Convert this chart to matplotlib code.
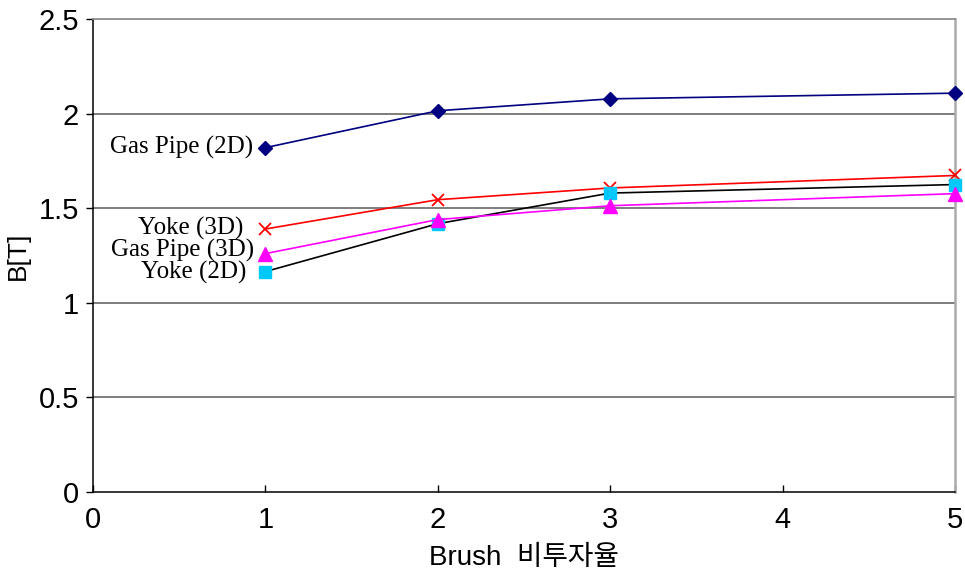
import matplotlib
matplotlib.use("Agg")
import matplotlib.pyplot as plt
from matplotlib import font_manager

# Brush relative permeability vs flux density
x_vals = [1, 2, 3, 5]
gas_pipe_2d = [1.82, 2.015, 2.078, 2.108]
yoke_3d = [1.39, 1.545, 1.607, 1.673]
gas_pipe_3d = [1.26, 1.44, 1.513, 1.577]
yoke_2d = [1.165, 1.418, 1.58, 1.625]
series_names = ["Gas Pipe (2D)", "Yoke (3D)", "Gas Pipe (3D)", "Yoke (2D)"]
x_ticks = [0, 1, 2, 3, 4, 5]
y_ticks = [0, 0.5, 1, 1.5, 2, 2.5]
y_tick_labels = ["0", "0.5", "1", "1.5", "2", "2.5"]

names = {f.name for f in font_manager.fontManager.ttflist}
narrow = "Liberation Sans Narrow" if "Liberation Sans Narrow" in names else "Liberation Sans"
tick_family = [narrow, "DejaVu Sans"]
label_family = [narrow, "Noto Sans CJK KR", "DejaVu Sans"]
serif_family = ["Liberation Serif", "DejaVu Serif"]

fig = plt.figure(figsize=(9.65, 5.71), dpi=100)
ax = fig.add_axes([93 / 965, 1 - 492 / 571, (955 - 93) / 965, (492 - 19) / 571])

ax.set_xlim(0, 5)
ax.set_ylim(0, 2.5)

for y in [0.5, 1, 1.5, 2]:
    ax.axhline(y, color="#5a5a5a", lw=1.1, zorder=1)

lw = 1.2
ax.plot(x_vals, gas_pipe_2d, color="#000080", lw=lw, marker="D", ms=7,
        mfc="#000080", mec="#000080", zorder=3, clip_on=False)
ax.plot(x_vals, yoke_3d, color="#ff0000", lw=lw, marker="x", ms=9, mew=1.3,
        mec="#ff0000", zorder=3, clip_on=False)
ax.plot(x_vals, yoke_2d, color="#000000", lw=lw, marker="s", ms=8,
        mfc="#00c8f8", mec="#00c8f8", zorder=3, clip_on=False)
ax.plot(x_vals, gas_pipe_3d, color="#ff00ff", lw=lw, marker="^", ms=9.5,
        mfc="#ff00ff", mec="#ff00ff", zorder=4, clip_on=False)

# Series labels next to the first point
first = [gas_pipe_2d[0], yoke_3d[0], gas_pipe_3d[0], yoke_2d[0]]
offsets = [(-9, 0), (-16, 0.5), (-8, 2.5), (-14, -0.5)]
for name, y0, off in zip(series_names, first, offsets):
    ax.annotate(name, xy=(x_vals[0], y0), xytext=off, textcoords="offset points",
                ha="right", va="center", fontsize=18, family=serif_family)

ax.set_xticks(x_ticks)
ax.set_yticks(y_ticks)
ax.set_yticklabels(y_tick_labels)
ax.tick_params(axis="x", direction="in", length=5, width=1, pad=10, labelsize=21)
ax.tick_params(axis="y", direction="out", length=5, width=1, pad=5, labelsize=21)
for lab in ax.get_xticklabels() + ax.get_yticklabels():
    lab.set_family(tick_family)

ax.spines["left"].set_color("#000000")
ax.spines["bottom"].set_color("#000000")
ax.spines["left"].set_linewidth(1.1)
ax.spines["bottom"].set_linewidth(1.1)
ax.spines["top"].set_color("#8c8c8c")
ax.spines["top"].set_linewidth(1.3)
ax.spines["right"].set_color("#aaaaaa")
ax.spines["right"].set_linewidth(1.8)

ax.set_xlabel("Brush  비투자율", fontsize=20, family=label_family, labelpad=8)
ax.set_ylabel("B[T]", fontsize=19, family=label_family, labelpad=6)

fig.savefig("out.png", dpi=100)
